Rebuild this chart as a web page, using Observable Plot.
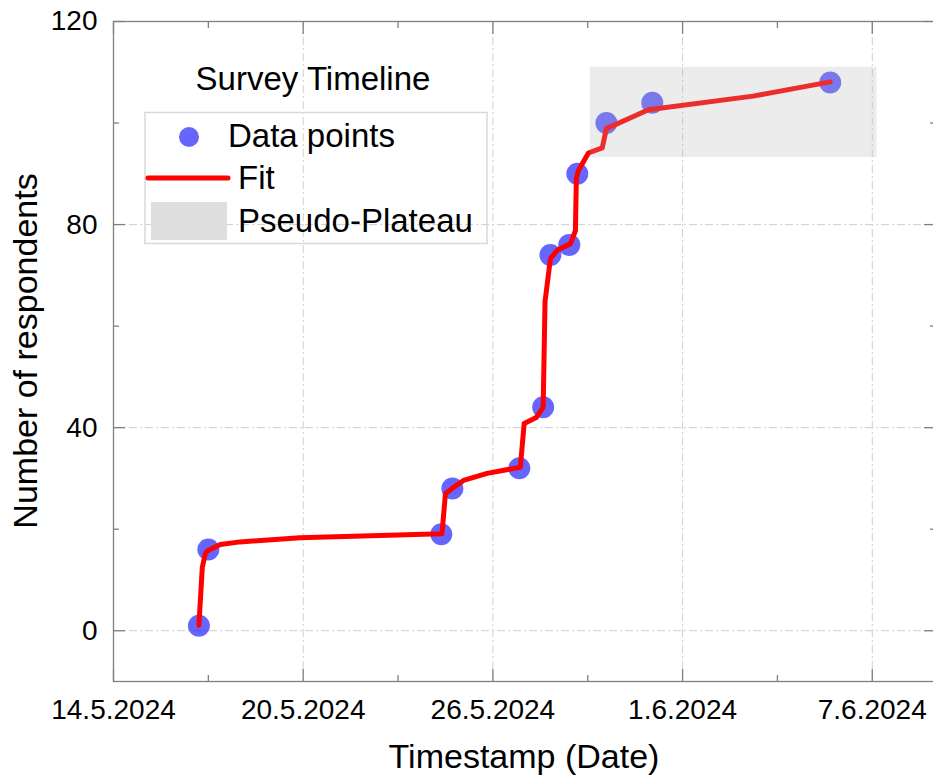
<!DOCTYPE html>
<html>
<head>
<meta charset="utf-8">
<script src="https://cdn.jsdelivr.net/npm/d3@7"></script>
<script src="https://cdn.jsdelivr.net/npm/@observablehq/plot@0.6"></script>
<style>
  body { margin: 0; background: #fff; overflow: hidden; }
  #chart { position: relative; width: 933px; height: 780px; }
</style>
</head>
<body>
<div id="chart"></div>
<script>
// ---------- data ----------
const pointDates = ["2024-05-16T16:50","2024-05-17T00:00","2024-05-24T08:50","2024-05-24T17:15","2024-05-26T20:05","2024-05-27T14:10","2024-05-27T19:40","2024-05-28T10:00","2024-05-28T16:05","2024-05-29T14:10","2024-05-31T01:00","2024-06-05T16:05"];
const pointValues = [1, 16, 19, 28, 32, 44, 74, 76, 90, 100, 104, 108];

const fitDates = ["2024-05-16T16:50","2024-05-16T19:25","2024-05-16T21:50","2024-05-16T23:45","2024-05-17T09:05","2024-05-18T00:00","2024-05-19T21:35","2024-05-24T09:20","2024-05-24T12:00","2024-05-24T17:00","2024-05-25T01:40","2024-05-25T19:40","2024-05-26T20:50","2024-05-26T23:45","2024-05-27T08:55","2024-05-27T14:10","2024-05-27T15:35","2024-05-27T19:40","2024-05-28T01:00","2024-05-28T10:50","2024-05-28T14:40","2024-05-28T15:20","2024-05-28T16:50","2024-05-29T00:30","2024-05-29T11:00","2024-05-29T14:10","2024-05-30T22:05","2024-06-03T05:30","2024-06-05T16:05"];
const fitValues = [1.1, 12.5, 15.3, 15.8, 17.0, 17.5, 18.3, 19.1, 27.0, 28.0, 29.6, 31.0, 32.2, 40.8, 42.0, 44.0, 64.8, 73.3, 75.0, 76.2, 78.8, 89.0, 90.6, 94.1, 95.1, 98.9, 102.6, 105.3, 108.1];

const plateauStart = "2024-05-29T02:00";
const plateauEnd = "2024-06-07T03:40";
const plateauLow = 93.2;
const plateauHigh = 111;

const xDomain = ["2024-05-14T00:00", "2024-06-09T00:00"];
const xMajorTicks = ["2024-05-14T00:00","2024-05-20T00:00","2024-05-26T00:00","2024-06-01T00:00","2024-06-07T00:00"];
const xMinorTicks = ["2024-05-17T00:00","2024-05-23T00:00","2024-05-29T00:00","2024-06-04T00:00"];
const yDomain = [-10, 120];
const yMajorTicks = [0, 40, 80, 120];
const yMinorTicks = [20, 60, 100];

const xTitle = "Timestamp (Date)";
const yTitle = "Number of respondents";
const legendTitle = "Survey Timeline";
const legendLabels = ["Data points", "Fit", "Pseudo-Plateau"];

// ---------- build ----------
const utc = s => new Date(s + "Z");
const points = pointDates.map((d, i) => ({date: utc(d), value: pointValues[i]}));
const fit = fitDates.map((d, i) => ({date: utc(d), value: fitValues[i]}));
const plateau = [{x1: utc(plateauStart), x2: utc(plateauEnd), y1: plateauLow, y2: plateauHigh}];
const xMaj = xMajorTicks.map(utc), xMin = xMinorTicks.map(utc);

const axisGrey = "#7f7f7f";
const gridStyle = {stroke: "#cfcfcf", strokeOpacity: 1, strokeWidth: 1, strokeDasharray: "8,3,2,3"};
const tickStyle = {fill: "none", stroke: axisGrey, strokeWidth: 1.3, label: null};

const chart = Plot.plot({
  width: 933,
  height: 780,
  marginTop: 21,
  marginBottom: 99,
  marginLeft: 113,
  marginRight: -2,
  style: {fontFamily: "'Liberation Sans', Arial, sans-serif", fontSize: "28px", color: "black", background: "white"},
  x: {type: "utc", domain: xDomain.map(utc)},
  y: {domain: yDomain},
  marks: [
    Plot.gridX(xMaj, gridStyle),
    Plot.gridY(yMajorTicks, gridStyle),
    Plot.frame({stroke: axisGrey, strokeWidth: 1.3}),
    // inward ticks on all sides
    Plot.axisX(xMaj, {anchor: "bottom", tickSize: -12, ...tickStyle}),
    Plot.axisX(xMin, {anchor: "bottom", tickSize: -6, ...tickStyle}),
    Plot.axisX(xMaj, {anchor: "top", tickSize: -12, ...tickStyle}),
    Plot.axisX(xMin, {anchor: "top", tickSize: -6, ...tickStyle}),
    Plot.axisY(yMajorTicks, {anchor: "left", tickSize: -12, ...tickStyle}),
    Plot.axisY(yMinorTicks, {anchor: "left", tickSize: -6, ...tickStyle}),
    Plot.axisY(yMajorTicks, {anchor: "right", tickSize: -12, ...tickStyle}),
    Plot.axisY(yMinorTicks, {anchor: "right", tickSize: -6, ...tickStyle}),
    // tick labels
    Plot.axisX(xMaj, {anchor: "bottom", tickSize: 0, tickPadding: 17.5, tickFormat: d3.utcFormat("%-d.%-m.%Y"), label: null, fill: "black"}),
    Plot.axisY(yMajorTicks, {anchor: "left", tickSize: 0, tickPadding: 16, label: null, fill: "black"}),
    // data
    Plot.dot(points, {x: "date", y: "value", r: 11, fill: "blue", fillOpacity: 0.6}),
    Plot.line(fit, {x: "date", y: "value", stroke: "red", strokeWidth: 5, strokeLinejoin: "round", strokeLinecap: "round"}),
    Plot.rect(plateau, {x1: "x1", x2: "x2", y1: "y1", y2: "y2", fill: "rgb(180,180,180)", fillOpacity: 0.25})
  ]
});
document.getElementById("chart").appendChild(chart);

// ---------- titles and legend ----------
const svg = d3.select(chart);
const font = "'Liberation Sans', Arial, sans-serif";
svg.append("text").attr("x", 524).attr("y", 768).attr("text-anchor", "middle")
  .attr("font-family", font).attr("font-size", 34).attr("fill", "black").text(xTitle);
svg.append("text").attr("transform", "translate(37,351) rotate(-90)").attr("text-anchor", "middle")
  .attr("font-family", font).attr("font-size", 34).attr("fill", "black").text(yTitle);

const lg = svg.append("g").attr("font-family", font).attr("font-size", 33).attr("fill", "black")
  .attr("text-anchor", "start");
lg.append("text").attr("x", 313).attr("y", 90).attr("text-anchor", "middle").text(legendTitle);
lg.append("rect").attr("x", 145).attr("y", 112.5).attr("width", 342).attr("height", 131)
  .attr("fill", "none").attr("stroke", "#d9d9d9").attr("stroke-width", 1.5);
lg.append("circle").attr("cx", 189).attr("cy", 137).attr("r", 10).attr("fill", "blue").attr("fill-opacity", 0.6);
lg.append("text").attr("x", 228).attr("y", 147).text(legendLabels[0]);
lg.append("line").attr("x1", 148).attr("x2", 228).attr("y1", 178).attr("y2", 178)
  .attr("stroke", "red").attr("stroke-width", 5).attr("stroke-linecap", "round");
lg.append("text").attr("x", 238).attr("y", 189).text(legendLabels[1]);
lg.append("rect").attr("x", 151).attr("y", 202).attr("width", 76).attr("height", 38).attr("fill", "#dedede");
lg.append("text").attr("x", 238).attr("y", 232).text(legendLabels[2]);
</script>
</body>
</html>
